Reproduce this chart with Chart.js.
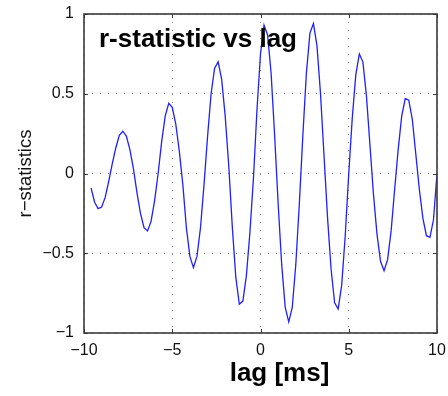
<!DOCTYPE html>
<html>
<head>
<meta charset="utf-8">
<script src="https://cdn.jsdelivr.net/npm/chart.js@4/dist/chart.umd.min.js"></script>
<style>
  html, body { margin: 0; padding: 0; background: #fff; }
  canvas { display: block; }
</style>
</head>
<body>
<canvas id="c" width="448" height="396"></canvas>
<script>
// Lag axis (ms) and the r-statistic at each lag
const lagMs = [
  -9.6, -9.4, -9.2, -9.0, -8.8, -8.6, -8.4, -8.2, -8.0, -7.8,
  -7.6, -7.4, -7.2, -7.0, -6.8, -6.6, -6.4, -6.2, -6.0, -5.8,
  -5.6, -5.4, -5.2, -5.0, -4.8, -4.6, -4.4, -4.2, -4.0, -3.8,
  -3.6, -3.4, -3.2, -3.0, -2.8, -2.6, -2.4, -2.2, -2.0, -1.8,
  -1.6, -1.4, -1.2, -1.0, -0.8, -0.6, -0.4, -0.2, 0.0, 0.2,
  0.4, 0.6, 0.8, 1.0, 1.2, 1.4, 1.6, 1.8, 2.0, 2.2,
  2.4, 2.6, 2.8, 3.0, 3.2, 3.4, 3.6, 3.8, 4.0, 4.2,
  4.4, 4.6, 4.8, 5.0, 5.2, 5.4, 5.6, 5.8, 6.0, 6.2,
  6.4, 6.6, 6.8, 7.0, 7.2, 7.4, 7.6, 7.8, 8.0, 8.2,
  8.4, 8.6, 8.8, 9.0, 9.2, 9.4, 9.6, 9.8, 10.0
];
const rStatistic = [
  -0.09, -0.18, -0.22, -0.21, -0.15, -0.05, 0.06, 0.16, 0.24, 0.265,
  0.235, 0.15, 0.03, -0.12, -0.25, -0.34, -0.36, -0.30, -0.17, 0.00,
  0.20, 0.36, 0.44, 0.415, 0.31, 0.14, -0.07, -0.34, -0.52, -0.59,
  -0.52, -0.34, -0.07, 0.23, 0.50, 0.66, 0.70, 0.59, 0.36, 0.05,
  -0.33, -0.65, -0.82, -0.80, -0.64, -0.37, -0.03, 0.40, 0.75, 0.93,
  0.87, 0.63, 0.24, -0.19, -0.57, -0.84, -0.93, -0.84, -0.57, -0.19,
  0.24, 0.63, 0.88, 0.94, 0.80, 0.50, 0.11, -0.28, -0.60, -0.81,
  -0.85, -0.70, -0.39, 0.00, 0.35, 0.62, 0.75, 0.70, 0.49, 0.18,
  -0.13, -0.38, -0.55, -0.61, -0.54, -0.36, -0.10, 0.15, 0.36, 0.47,
  0.46, 0.34, 0.12, -0.10, -0.28, -0.39, -0.40, -0.29, 0.00
];
const xTicks = [-10, -5, 0, 5, 10];
const yTicks = [-1, -0.5, 0, 0.5, 1];

const titleText = 'r-statistic vs lag';
const xLabel = 'lag [ms]';
const yLabel = 'r\u2212statistics';

const FONT = '"Liberation Sans", Arial, Helvetica, sans-serif';

// Tick text in the classic style: minus sign instead of hyphen
const fmt = v => String(v).replace('-', '\u2212');

// Boxed axes with inward ticks, plus the title and axis labels
const boxAxes = {
  id: 'boxAxes',
  afterDatasetsDraw(chart) {
    const { ctx, chartArea: a, scales: { x, y } } = chart;
    ctx.save();
    ctx.strokeStyle = '#3a3a3a';
    ctx.lineWidth = 1;
    ctx.beginPath();
    xTicks.forEach(v => {
      const px = Math.round(x.getPixelForValue(v)) + 0.5;
      ctx.moveTo(px, a.bottom); ctx.lineTo(px, a.bottom - 4);
      ctx.moveTo(px, a.top); ctx.lineTo(px, a.top + 4);
    });
    yTicks.forEach(v => {
      const py = Math.round(y.getPixelForValue(v)) + 0.5;
      ctx.moveTo(a.left, py); ctx.lineTo(a.left + 4, py);
      ctx.moveTo(a.right, py); ctx.lineTo(a.right - 4, py);
    });
    ctx.stroke();
    ctx.lineWidth = 1.6;
    ctx.strokeRect(a.left, a.top, a.right - a.left, a.bottom - a.top);

    ctx.fillStyle = '#000';
    ctx.textBaseline = 'alphabetic';
    ctx.font = 'bold 26px ' + FONT;
    ctx.textAlign = 'left';
    ctx.fillText(titleText, a.left + 15, a.top + 33);

    ctx.textAlign = 'center';
    ctx.fillText(xLabel, (a.left + a.right) / 2 + 19, 381);

    ctx.font = '18.5px ' + FONT;
    ctx.fillStyle = '#111';
    ctx.translate(31, (a.top + a.bottom) / 2);
    ctx.rotate(-Math.PI / 2);
    ctx.fillText(yLabel, 0, 0);
    ctx.restore();
  }
};

new Chart(document.getElementById('c'), {
  type: 'line',
  data: {
    datasets: [{
      data: lagMs.map((t, i) => ({ x: t, y: rStatistic[i] })),
      borderColor: '#1f1fff',
      borderWidth: 1.3,
      pointRadius: 0,
      tension: 0,
      fill: false
    }]
  },
  options: {
    responsive: false,
    animation: false,
    events: [],
    layout: { padding: { top: 14, right: 11, left: 0, bottom: 0 } },
    plugins: { legend: { display: false }, tooltip: { enabled: false } },
    scales: {
      x: {
        type: 'linear',
        min: -10, max: 10,
        afterBuildTicks: s => { s.ticks = xTicks.map(v => ({ value: v })); },
        afterFit: s => { s.height = 63; s.paddingLeft = 0; s.paddingRight = 0; },
        grid: { color: '#8a8a8a', lineWidth: 1, drawTicks: false },
        border: { display: false, dash: [1, 7] },
        ticks: {
          padding: 8, color: '#111', maxRotation: 0,
          font: { family: FONT, size: 16 },
          callback: v => fmt(v)
        }
      },
      y: {
        type: 'linear',
        min: -1, max: 1,
        afterBuildTicks: s => { s.ticks = yTicks.map(v => ({ value: v })); },
        afterFit: s => { s.width = 84; s.paddingTop = 0; s.paddingBottom = 0; },
        grid: { color: '#8a8a8a', lineWidth: 1, drawTicks: false },
        border: { display: false, dash: [1, 7] },
        ticks: {
          padding: 10, color: '#111',
          font: { family: FONT, size: 16 },
          callback: v => fmt(v)
        }
      }
    }
  },
  plugins: [boxAxes]
});
</script>
</body>
</html>
